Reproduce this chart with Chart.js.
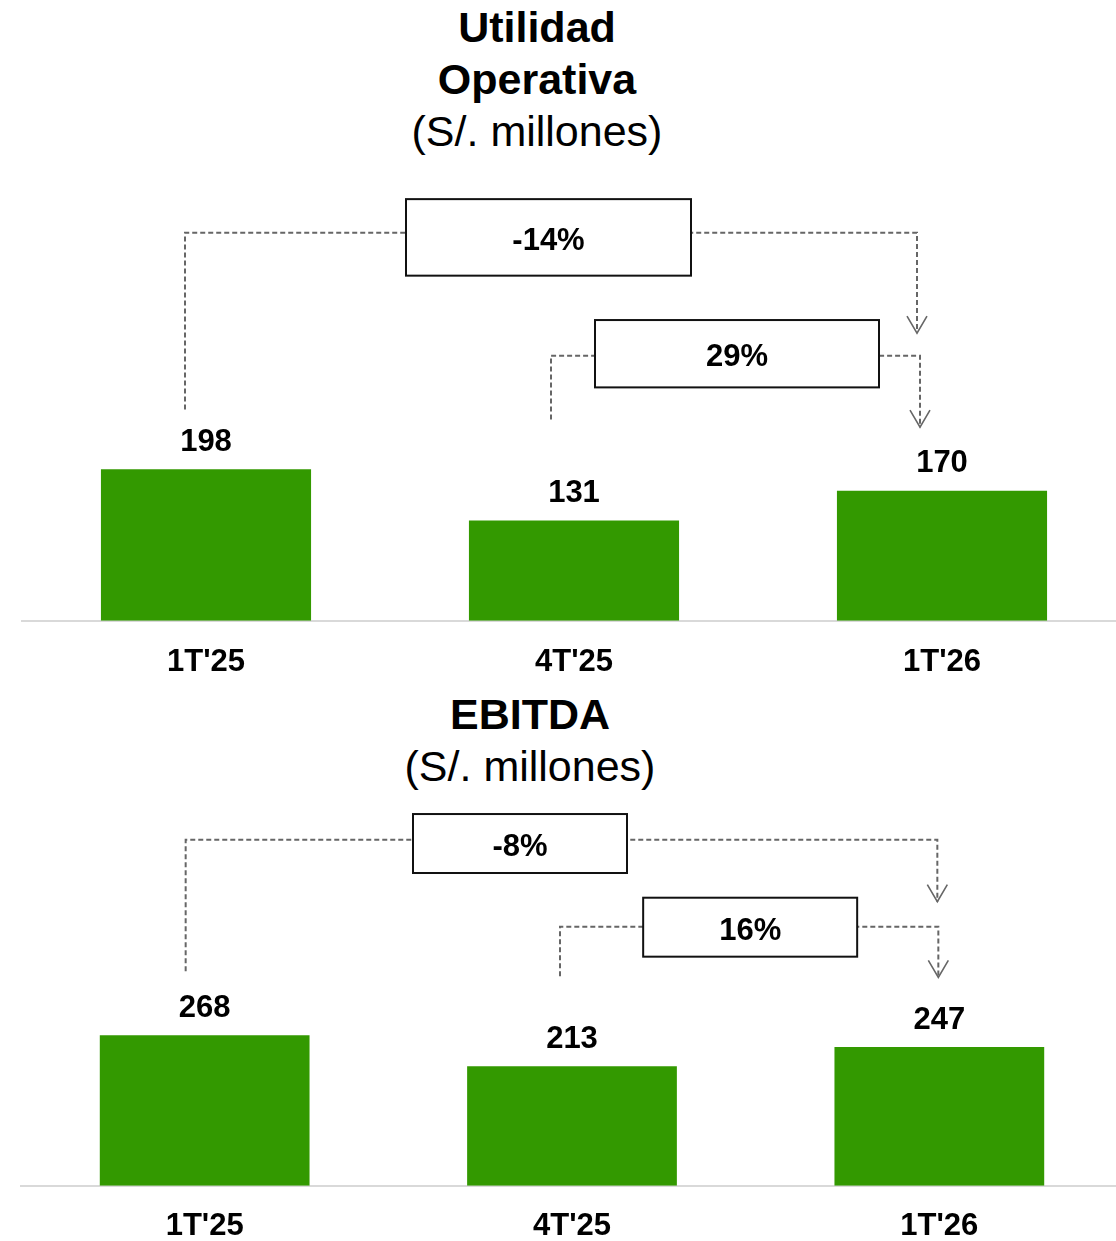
<!DOCTYPE html>
<html>
<head>
<meta charset="utf-8">
<script src="https://cdn.jsdelivr.net/npm/chart.js@4.4.1/dist/chart.umd.min.js"></script>
<style>
html,body{margin:0;padding:0;background:#fff;overflow:hidden;width:1116px;height:1241px;}
body{position:relative;font-family:"Liberation Sans",Arial,sans-serif;}
.title{position:absolute;left:0;text-align:center;font-size:43px;line-height:52px;color:#000;}
.title b{font-weight:700;}
canvas{position:absolute;left:0;}
</style>
</head>
<body>
<div class="title" style="top:1px;width:1074px;"><b>Utilidad</b><br><b>Operativa</b><br>(S/. millones)</div>
<div class="title" style="top:688px;width:1060px;"><b>EBITDA</b><br>(S/. millones)</div>
<canvas id="c1" width="1130" height="715" style="top:0px;width:1130px;height:715px;"></canvas>
<canvas id="c2" width="1130" height="588" style="top:690px;width:1130px;height:588px;"></canvas>
<script>
// ---- data ----
const categories = ["1T'25", "4T'25", "1T'26"];
const utilidadValues = [198, 131, 170];
const ebitdaValues = [268, 213, 247];
const utilidadChanges = ["-14%", "29%"];
const ebitdaChanges = ["-8%", "16%"];
const changePairs = [[0, 2], [1, 2]];

// ---- annotation layout (in y-axis units / pixel offsets) ----
const utilidadBrackets = [
  {level: 507, leftEnd: 276, tip: 376, boxTop: 551, boxBottom: 451, dxL: -21, dxR: -25, boxDx: -2.5, boxW: 285},
  {level: 346.5, leftEnd: 263, tip: 253, boxTop: 393, boxBottom: 305, dxL: -23, dxR: -22, boxDx: 1.5, boxW: 284}
];
const ebitdaBrackets = [
  {level: 616, leftEnd: 382, tip: 506, boxTop: 662, boxBottom: 557, dxL: -19, dxR: -2, boxDx: -41.5, boxW: 214},
  {level: 461.5, leftEnd: 373, tip: 371, boxTop: 513, boxBottom: 408, dxL: -12, dxR: -1, boxDx: 1, boxW: 214}
];

const FONT = "'Liberation Sans', Arial, sans-serif";
const GREEN = '#339900';

const valueLabelPlugin = {
  id: 'valueLabels',
  afterDatasetsDraw(chart) {
    const ctx = chart.ctx;
    const meta = chart.getDatasetMeta(0);
    const vals = chart.data.datasets[0].data;
    ctx.save();
    ctx.font = 'bold 31px ' + FONT;
    ctx.fillStyle = '#000';
    ctx.textAlign = 'center';
    ctx.textBaseline = 'middle';
    meta.data.forEach((bar, i) => {
      ctx.fillText(String(vals[i]), bar.x, bar.y - 27);
    });
    ctx.restore();
  }
};

const bracketPlugin = {
  id: 'brackets',
  afterDraw(chart, args, opts) {
    const ctx = chart.ctx;
    const xs = chart.scales.x, ys = chart.scales.y;
    opts.items.forEach((a, i) => {
      const pair = changePairs[i];
      const xl = xs.getPixelForValue(pair[0]) + a.dxL;
      const xr = xs.getPixelForValue(pair[1]) + a.dxR;
      const yl = ys.getPixelForValue(a.level);
      const yLeftEnd = ys.getPixelForValue(a.leftEnd);
      const yTip = ys.getPixelForValue(a.tip);
      ctx.save();
      ctx.strokeStyle = '#666';
      ctx.lineWidth = 2;
      ctx.setLineDash([5, 3]);
      ctx.beginPath();
      ctx.moveTo(xl, yLeftEnd);
      ctx.lineTo(xl, yl);
      ctx.lineTo(xr, yl);
      ctx.lineTo(xr, yTip);
      ctx.stroke();
      ctx.setLineDash([]);
      ctx.lineWidth = 1.6;
      ctx.beginPath();
      ctx.moveTo(xr - 10, yTip - 17);
      ctx.lineTo(xr, yTip);
      ctx.lineTo(xr + 10, yTip - 17);
      ctx.stroke();
      // box
      const cx = (xl + xr) / 2 + a.boxDx;
      const bt = ys.getPixelForValue(a.boxTop);
      const bb = ys.getPixelForValue(a.boxBottom);
      ctx.fillStyle = '#fff';
      ctx.fillRect(cx - a.boxW / 2, bt, a.boxW, bb - bt);
      ctx.strokeStyle = '#111';
      ctx.lineWidth = 2;
      ctx.strokeRect(cx - a.boxW / 2, bt, a.boxW, bb - bt);
      ctx.fillStyle = '#000';
      ctx.font = 'bold 31px ' + FONT;
      ctx.textAlign = 'center';
      ctx.textBaseline = 'middle';
      ctx.fillText(opts.labels[i], cx, (bt + bb) / 2 + 4);
      ctx.restore();
    });
  }
};

function makeChart(id, values, yMax, pad, tickPad, brackets, labels) {
  return new Chart(document.getElementById(id), {
    type: 'bar',
    data: {
      labels: categories,
      datasets: [{
        data: values,
        backgroundColor: GREEN,
        borderWidth: 0,
        barPercentage: 0.571,
        categoryPercentage: 1
      }]
    },
    options: {
      responsive: false,
      animation: false,
      events: [],
      layout: {padding: pad},
      plugins: {
        legend: {display: false},
        tooltip: {enabled: false},
        title: {display: false},
        brackets: {items: brackets, labels: labels}
      },
      scales: {
        x: {
          grid: {display: false, drawTicks: false},
          border: {display: true, color: '#d9d9d9', width: 2},
          ticks: {
            color: '#000',
            padding: tickPad,
            font: {family: FONT, size: 31, weight: 'bold', lineHeight: 1.2}
          }
        },
        y: {
          display: false,
          min: 0,
          max: yMax
        }
      }
    },
    plugins: [valueLabelPlugin, bracketPlugin]
  });
}

makeChart('c1', utilidadValues, 576, {top: 180, left: 22, right: 4, bottom: 11}, 23, utilidadBrackets, utilidadChanges);
makeChart('c2', ebitdaValues, 687, {top: 110, left: 21, right: 7, bottom: 11}, 22, ebitdaBrackets, ebitdaChanges);
</script>
</body>
</html>
